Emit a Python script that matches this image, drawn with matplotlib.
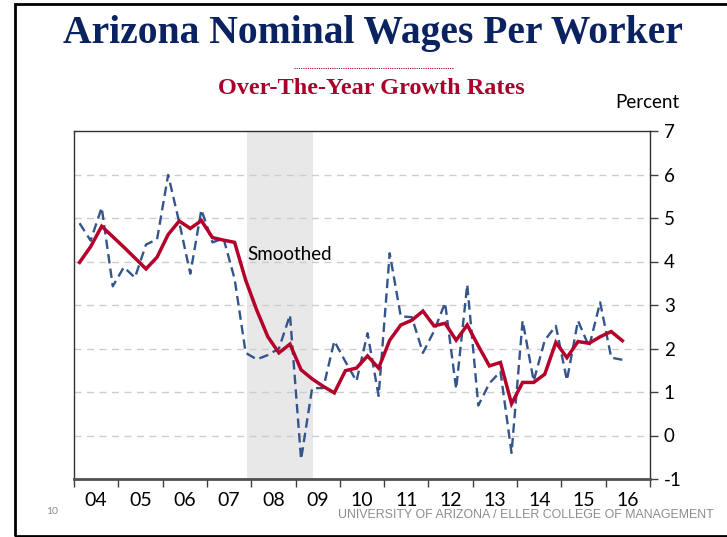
import numpy as np
import matplotlib.pyplot as plt
from matplotlib.patches import Rectangle
from matplotlib.lines import Line2D

plt.rcParams['axes.unicode_minus'] = False

#==================== data (quarterly, 2004Q1 .. 2016Q2)
first_year = 2004
year_labels = ["04", "05", "06", "07", "08", "09", "10",
               "11", "12", "13", "14", "15", "16"]

wages_yoy = [4.88, 4.48, 5.24, 3.43, 3.87, 3.63, 4.39, 4.51, 5.99, 4.90,
             3.72, 5.19, 4.44, 4.53, 3.60, 1.90, 1.75, 1.85, 2.00, 2.77,
             -0.55, 1.09, 1.09, 2.17, 1.70, 1.25, 2.35, 0.91, 4.19, 2.74,
             2.72, 1.90, 2.40, 3.05, 1.07, 3.47, 0.69, 1.20, 1.47, -0.40,
             2.64, 1.25, 2.19, 2.52, 1.27, 2.64, 2.04, 3.06, 1.79, 1.74]

wages_smoothed = [3.98, 4.34, 4.81, 4.57, 4.33, 4.08, 3.83, 4.10, 4.62, 4.93,
                  4.76, 4.94, 4.55, 4.49, 4.44, 3.57, 2.88, 2.27, 1.90, 2.10,
                  1.51, 1.30, 1.13, 0.98, 1.49, 1.55, 1.83, 1.55, 2.19, 2.54,
                  2.65, 2.86, 2.52, 2.58, 2.19, 2.54, 2.06, 1.60, 1.68, 0.73,
                  1.22, 1.22, 1.41, 2.14, 1.79, 2.16, 2.12, 2.27, 2.39, 2.18]

recession = (2007.9, 2009.4)

#==================== colours
NAVY = '#0B2260'
DARKRED = '#A8002A'
BLUE = '#34548C'
RED = '#B4002A'
GREY_TXT = '#8C8C8C'

sans = ['Lato', 'DejaVu Sans']
serif = ['Liberation Serif', 'DejaVu Serif']

x = first_year + (np.arange(len(wages_yoy)) + 0.5) / 4.0

fig = plt.figure(figsize=(7.27, 5.37), dpi=100)
W, H = 727.0, 537.0

# slide frame
fig.patches.append(Rectangle((15/W, 1.5/H), 1.0, (535-3)/H, transform=fig.transFigure,
                             fill=False, edgecolor='black', linewidth=2.0))

ax = fig.add_axes([74/W, 1-479/H, (650-74)/W, (479-131)/H])

ax.axvspan(recession[0], recession[1], color='#E8E8E8', zorder=0, lw=0)
for yv in range(0, 7):
  ax.axhline(yv, color='#CDCDCD', lw=1.0, ls=(0, (5, 4)), zorder=1)

ax.plot(x, wages_yoy, color=BLUE, lw=1.7, ls=(0, (4, 2.2)), zorder=3)
ax.plot(x, wages_smoothed, color=RED, lw=2.5, zorder=4, solid_joinstyle='miter')

ax.set_xlim(first_year, first_year + len(year_labels))
ax.set_ylim(-1, 7)

#==================== y axis on the right
ax.yaxis.tick_right()
ax.set_yticks(range(-1, 8))
ax.tick_params(axis='y', direction='out', length=6, width=1.0, color='#404040',
               pad=4, labelsize=13.5)
for lab in ax.get_yticklabels():
  lab.set_family(sans)

#==================== x axis: ticks at year boundaries, labels at year centres
ax.set_xticks(np.arange(first_year, first_year + len(year_labels) + 1))
ax.set_xticklabels([])
ax.set_xticks(np.arange(len(year_labels)) + first_year + 0.5, minor=True)
ax.set_xticklabels(year_labels, minor=True)
ax.tick_params(axis='x', which='major', direction='out', length=6, width=1.0,
               color='#404040')
ax.tick_params(axis='x', which='minor', length=0, pad=9, labelsize=14)
for lab in ax.get_xticklabels(minor=True):
  lab.set_family(sans)

for side in ['left', 'top', 'right']:
  ax.spines[side].set_color('#303030')
  ax.spines[side].set_linewidth(1.0)
ax.spines['bottom'].set_color('#505050')
ax.spines['bottom'].set_linewidth(2.0)

ax.text(2007.92, 4.15, "Smoothed", fontsize=13.5, family=sans, color='black',
        va='center', ha='left', zorder=5)

#==================== titles and footer
fig.text(373/W, 1-33/H, "Arizona Nominal Wages Per Worker", ha='center',
         va='center', fontsize=28.5, fontweight='bold', family=serif, color=NAVY)
fig.add_artist(Line2D([294/W, 454/W], [1-67.5/H, 1-67.5/H], transform=fig.transFigure,
                      color=DARKRED, lw=0.8, ls=(0, (1, 1))))
fig.text(371/W, 1-89/H, "Over-The-Year Growth Rates", ha='center', va='center',
         fontsize=17.5, fontweight='bold', family=serif, color=DARKRED)
fig.text(679/W, 1-103/H, "Percent", ha='right', va='center', fontsize=13.5,
         family=sans, color='black')
fig.text(52/W, 1-511/H, "10", ha='center', va='center', fontsize=7.5,
         family=sans, color=GREY_TXT)
fig.text(714/W, 1-515/H, "UNIVERSITY OF ARIZONA / ELLER COLLEGE OF MANAGEMENT",
         ha='right', va='center', fontsize=8.9, family=['Liberation Sans', 'DejaVu Sans'],
         color=GREY_TXT)

fig.savefig('out.png', dpi=100)
